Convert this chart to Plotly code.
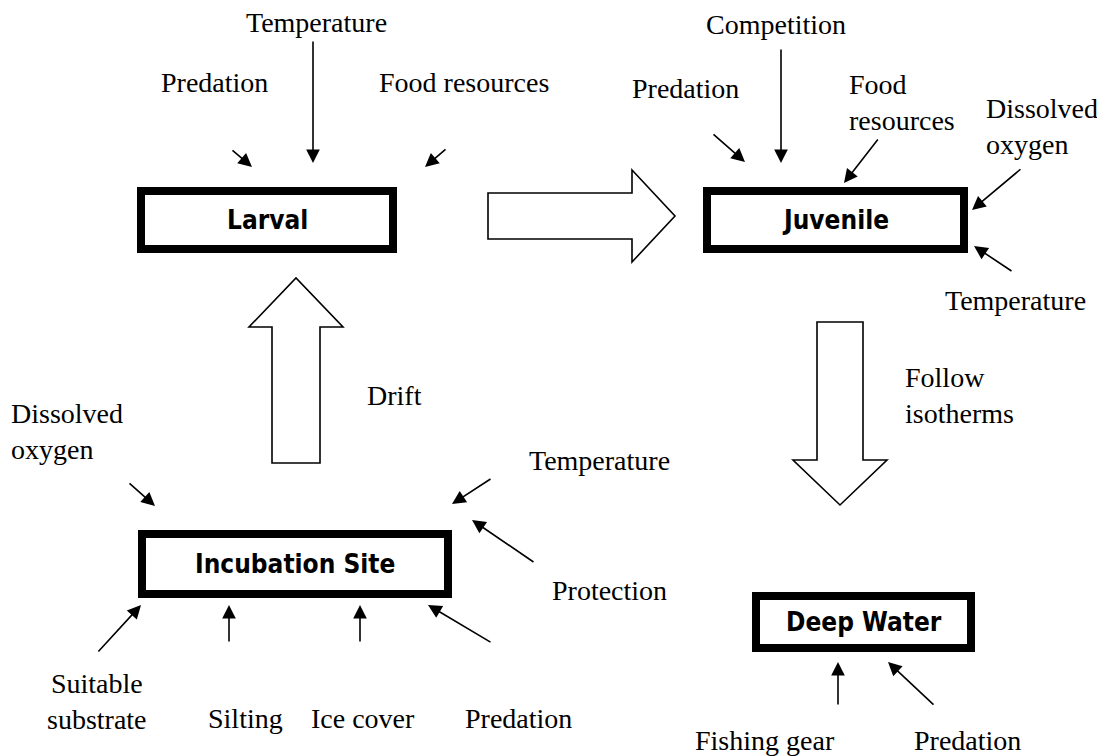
import plotly.graph_objects as go

W, H = 1105, 756
OFF = 8  # page body margin of the written html

# ---- content ----
stages = ["Larval", "Juvenile", "Incubation Site", "Deep Water"]
transitions = ["", "", "Drift", "Follow<br>isotherms"]

factor_labels = [
    "Temperature", "Predation", "Food resources",                       # larval
    "Competition", "Predation", "Food<br>resources", "Dissolved<br>oxygen", "Temperature",  # juvenile
    "Dissolved<br>oxygen", "Temperature", "Protection", "Suitable<br>substrate",
    "Silting", "Ice cover", "Predation",                                 # incubation
    "Fishing gear", "Predation",                                         # deep water
]

# ---- geometry (layout only, page pixels) ----
box_pos = [(137, 187, 397, 253), (703, 187, 968, 253), (138, 530, 452, 598), (752, 592, 975, 652)]
label_pos = [  # x, y, anchor
    (316, 22, "center"), (214, 82, "center"), (464, 82, "center"),
    (776, 24, "center"), (685, 88, "center"), (848, 102, "left"), (985, 126, "left"), (1015, 300, "center"),
    (10, 431, "left"), (599, 460, "center"), (609, 590, "center"), (97, 701, "center"),
    (245, 718, "center"), (363, 718, "center"), (518, 718, "center"),
    (765, 740, "center"), (967, 740, "center"),
]
arrow_pos = [  # tail x, tail y, tip x, tip y
    (313, 40, 313, 163), (231, 149, 252, 167), (447, 148, 425, 167),
    (781, 48, 781, 163), (712, 133, 745, 162), (879, 138, 844, 183), (1022, 168, 972, 210), (1013, 272, 974, 246),
    (128, 482, 155, 506), (492, 478, 452, 504), (535, 563, 472, 520), (97, 653, 141, 605),
    (229, 643, 229, 605), (360, 643, 360, 605), (492, 643, 428, 605),
    (838, 706, 838, 662), (935, 706, 888, 662),
]
transition_pos = [None, None, (365, 395), (903, 395)]

right_arrow = dict(x0=488, x1=675, head_x=632, y_mid=216, body_half=23, head_half=46)
up_arrow = dict(y0=463, y1=278, head_y=327, x_mid=296, body_half=24, head_half=47)
down_arrow = dict(y0=322, y1=505, head_y=460, x_mid=840, body_half=23, head_half=47)

serif = "Liberation Serif, Times New Roman, serif"
bold_font = "Liberation Sans Narrow, DejaVu Sans Condensed, Arial Narrow, sans-serif"

fig = go.Figure()
shapes = []
annotations = []

def rh(a):
    x0, x1, hx, ym, bh, hh = a["x0"], a["x1"], a["head_x"], a["y_mid"], a["body_half"], a["head_half"]
    return (f"M{x0},{ym-bh} L{hx},{ym-bh} L{hx},{ym-hh} L{x1},{ym} L{hx},{ym+hh} "
            f"L{hx},{ym+bh} L{x0},{ym+bh} Z")

def vh(a):
    y0, y1, hy, xm, bh, hh = a["y0"], a["y1"], a["head_y"], a["x_mid"], a["body_half"], a["head_half"]
    return (f"M{xm-bh},{y0} L{xm-bh},{hy} L{xm-hh},{hy} L{xm},{y1} L{xm+hh},{hy} "
            f"L{xm+bh},{hy} L{xm+bh},{y0} Z")

for p in (rh(right_arrow), vh(up_arrow), vh(down_arrow)):
    shapes.append(dict(type="path", path=p, xref="x", yref="y",
                       line=dict(color="black", width=1.6), fillcolor="white"))

lw = 8
for name, (x0, y0, x1, y1) in zip(stages, box_pos):
    shapes.append(dict(type="rect", xref="x", yref="y",
                       x0=x0 + lw / 2, x1=x1 - lw / 2, y0=y0 + lw / 2, y1=y1 - lw / 2,
                       line=dict(color="black", width=lw), fillcolor="white"))
    annotations.append(dict(x=(x0 + x1) / 2, y=(y0 + y1) / 2, xref="x", yref="y", text=f"<b>{name}</b>",
                            showarrow=False, font=dict(family=bold_font, size=26, color="black")))

for lab, (x, y, anc) in zip(factor_labels, label_pos):
    annotations.append(dict(x=x, y=y, xref="x", yref="y", text=lab, showarrow=False,
                            xanchor=anc, yanchor="middle", align=anc, borderpad=0,
                            font=dict(family=serif, size=28, color="black")))

for (tx, ty, hx, hy) in arrow_pos:
    annotations.append(dict(x=hx, y=hy, ax=tx, ay=ty, xref="x", yref="y", axref="x", ayref="y",
                            text="", showarrow=True, arrowhead=2, arrowsize=1.7, arrowwidth=1.6,
                            arrowcolor="black", standoff=0, startstandoff=0))

for t, pos in zip(transitions, transition_pos):
    if pos:
        annotations.append(dict(x=pos[0], y=pos[1], xref="x", yref="y", text=t, showarrow=False,
                                xanchor="left", align="left",
                                font=dict(family=serif, size=28, color="black")))

fig.update_layout(
    width=W, height=H, margin=dict(l=0, r=0, t=0, b=0),
    paper_bgcolor="white", plot_bgcolor="white", showlegend=False,
    xaxis=dict(range=[OFF, W + OFF], visible=False, fixedrange=True),
    yaxis=dict(range=[H + OFF, OFF], visible=False, fixedrange=True),
    shapes=shapes, annotations=annotations,
)
fig.write_html("out.html")
